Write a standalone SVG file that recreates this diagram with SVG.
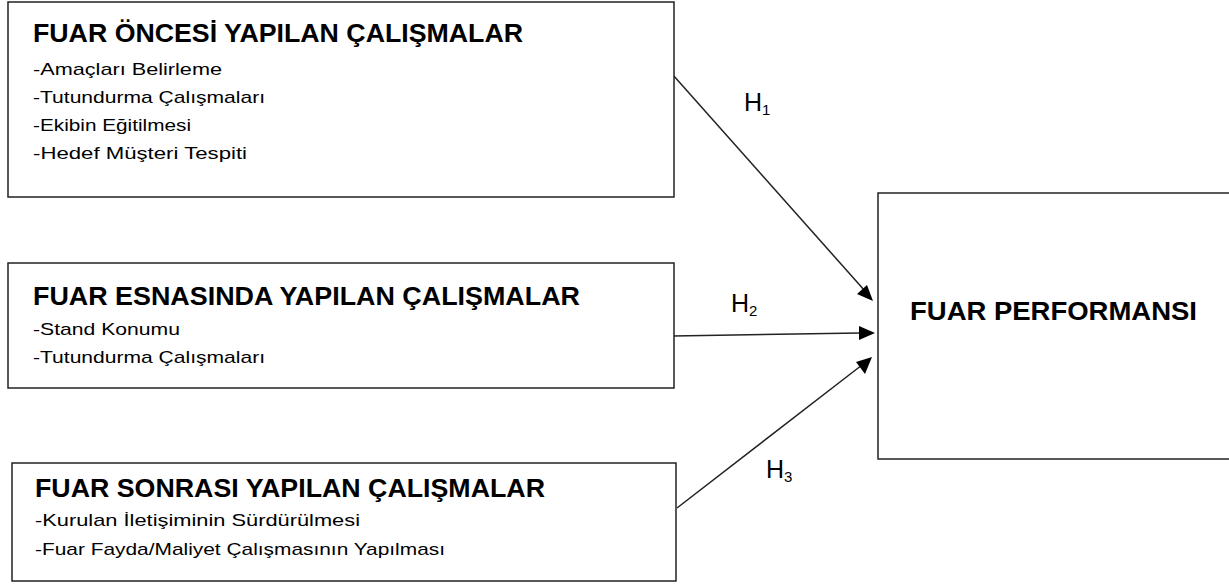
<svg xmlns="http://www.w3.org/2000/svg" width="1229" height="588" viewBox="0 0 1229 588">
<style>
.box{fill:#fff;stroke:#222;stroke-width:1.5}
.t{font-family:"Liberation Sans",Arial,sans-serif;font-weight:bold;font-size:25px;fill:#000}
.i{font-family:"Liberation Sans",Arial,sans-serif;font-size:17px;fill:#000}
.h{font-family:"Liberation Sans",Arial,sans-serif;font-size:25px;fill:#000}
.s{font-size:15px}
.ln{stroke:#222;stroke-width:1.5;fill:none}
.hd{fill:#000}
</style>
<rect width="1229" height="588" fill="#fff"/>
<g id="connectors">
<line class="ln" x1="673" y1="75" x2="865" y2="291"/>
<path class="hd" d="M873,301 L857,294 L867,285 z"/>
<line class="ln" x1="673" y1="336" x2="860" y2="333"/>
<path class="hd" d="M875,333 L859,326 L859,340 z"/>
<line class="ln" x1="677" y1="508" x2="862" y2="365"/>
<path class="hd" d="M872,357 L856,362 L865,374 z"/>
</g>
<g id="node-once">
<rect class="box" x="8" y="2" width="666" height="195"/>
<text class="t" x="33" y="42" textLength="490" lengthAdjust="spacingAndGlyphs">FUAR ÖNCESİ YAPILAN ÇALIŞMALAR</text>
<text class="i" x="33" y="75" textLength="189" lengthAdjust="spacingAndGlyphs">-Amaçları Belirleme</text>
<text class="i" x="33" y="103" textLength="232" lengthAdjust="spacingAndGlyphs">-Tutundurma Çalışmaları</text>
<text class="i" x="33" y="131" textLength="158" lengthAdjust="spacingAndGlyphs">-Ekibin Eğitilmesi</text>
<text class="i" x="33" y="159" textLength="214" lengthAdjust="spacingAndGlyphs">-Hedef Müşteri Tespiti</text>
</g>
<g id="node-esnasinda">
<rect class="box" x="8" y="263" width="666" height="125"/>
<text class="t" x="33" y="305" textLength="547" lengthAdjust="spacingAndGlyphs">FUAR ESNASINDA YAPILAN ÇALIŞMALAR</text>
<text class="i" x="33" y="335" textLength="147" lengthAdjust="spacingAndGlyphs">-Stand Konumu</text>
<text class="i" x="33" y="363" textLength="232" lengthAdjust="spacingAndGlyphs">-Tutundurma Çalışmaları</text>
</g>
<g id="node-sonrasi">
<rect class="box" x="12" y="463" width="664" height="118"/>
<text class="t" x="35" y="497" textLength="510" lengthAdjust="spacingAndGlyphs">FUAR SONRASI YAPILAN ÇALIŞMALAR</text>
<text class="i" x="35" y="526" textLength="325" lengthAdjust="spacingAndGlyphs">-Kurulan İletişiminin Sürdürülmesi</text>
<text class="i" x="35" y="555" textLength="410" lengthAdjust="spacingAndGlyphs">-Fuar Fayda/Maliyet Çalışmasının Yapılması</text>
</g>
<g id="node-performans">
<rect class="box" x="878" y="193" width="360" height="266"/>
<text class="t" x="910" y="320" textLength="287" lengthAdjust="spacingAndGlyphs">FUAR PERFORMANSI</text>
</g>
<g id="labels">
<text class="h" x="744" y="111">H<tspan class="s" dy="4">1</tspan></text>
<text class="h" x="731" y="312">H<tspan class="s" dy="4">2</tspan></text>
<text class="h" x="766" y="478">H<tspan class="s" dy="4">3</tspan></text>
</g>
</svg>
